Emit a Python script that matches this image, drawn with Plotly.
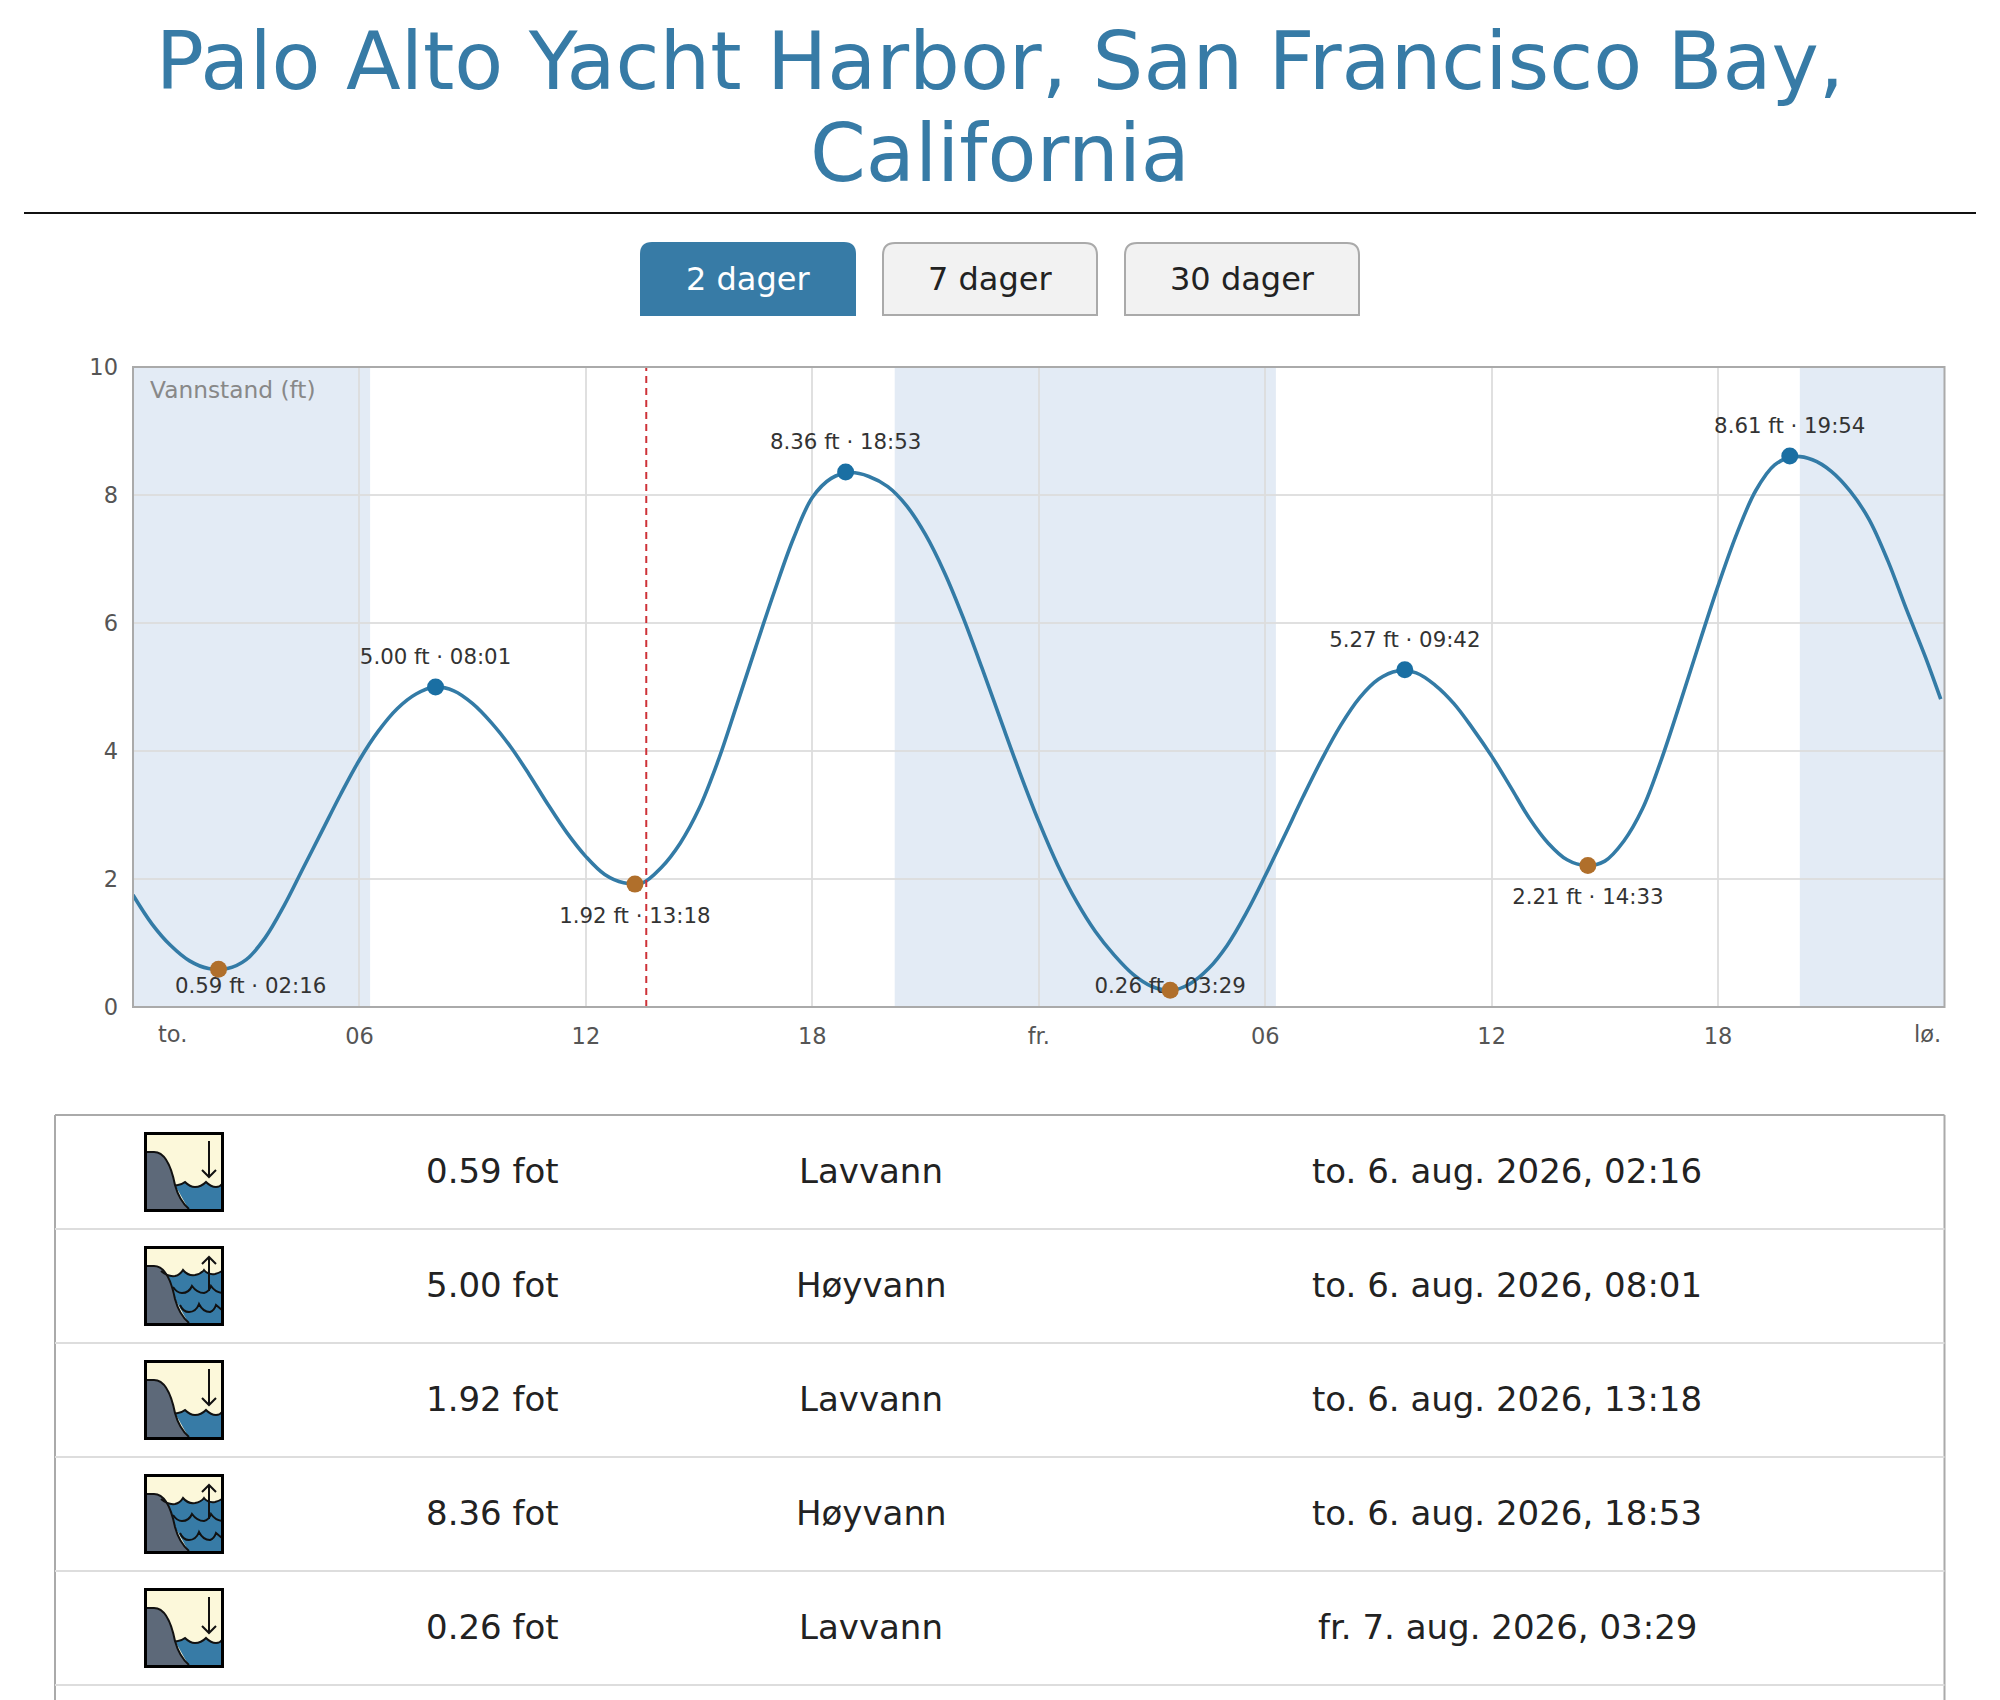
import pandas as pd
import plotly.graph_objects as go

W, H = 2000, 1700
FONT = "DejaVu Sans"
BLUE = "#377BA6"

# ---------- data ----------
title_lines = ["Palo Alto Yacht Harbor, San Francisco Bay,", "California"]
range_buttons = ["2 dager", "7 dager", "30 dager"]

level_times = list(pd.date_range("2026-08-06 00:00", periods=96, freq="30min").strftime("%Y-%m-%d %H:%M")) + ["2026-08-07 23:54"]
level_ft = [1.75, 1.30, 0.96, 0.72, 0.60, 0.60, 0.74, 1.08, 1.58, 2.16, 2.74, 3.32,
            3.86, 4.31, 4.66, 4.89, 5.00, 4.94, 4.74, 4.44, 4.07, 3.63, 3.16, 2.72,
            2.35, 2.07, 1.94, 1.94, 2.18, 2.56, 3.10, 3.84, 4.72, 5.62, 6.50, 7.32,
            7.96, 8.26, 8.35, 8.29, 8.13, 7.83, 7.38, 6.79, 6.08, 5.29, 4.47, 3.66,
            2.90, 2.22, 1.65, 1.18, 0.81, 0.51, 0.32, 0.26, 0.36, 0.60, 0.97, 1.47,
            2.05, 2.66, 3.28, 3.87, 4.40, 4.83, 5.12, 5.25, 5.22, 5.03, 4.74, 4.35,
            3.92, 3.44, 2.95, 2.56, 2.30, 2.21, 2.28, 2.59, 3.10, 3.87, 4.76, 5.68,
            6.58, 7.40, 8.07, 8.47, 8.60, 8.55, 8.37, 8.06, 7.62, 6.97, 6.20, 5.46, 4.81]

high_times = ["2026-08-06 08:01", "2026-08-06 18:53", "2026-08-07 09:42", "2026-08-07 19:54"]
high_ft = [5.00, 8.36, 5.27, 8.61]
low_times = ["2026-08-06 02:16", "2026-08-06 13:18", "2026-08-07 03:29", "2026-08-07 14:33"]
low_ft = [0.59, 1.92, 0.26, 2.21]

night_bands = [("2026-08-06 00:00", "2026-08-06 06:17"),
               ("2026-08-06 20:11", "2026-08-07 06:17"),
               ("2026-08-07 20:10", "2026-08-08 00:00")]
now_time = "2026-08-06 13:36"

x_tick_vals = ["2026-08-06 06:00", "2026-08-06 12:00", "2026-08-06 18:00", "2026-08-07 00:00",
               "2026-08-07 06:00", "2026-08-07 12:00", "2026-08-07 18:00"]
x_tick_text = ["06", "12", "18", "fr.", "06", "12", "18"]
y_ticks = [0, 2, 4, 6, 8, 10]

row_heights = ["0.59 fot", "5.00 fot", "1.92 fot", "8.36 fot", "0.26 fot"]
row_kinds = ["Lavvann", "Høyvann", "Lavvann", "Høyvann", "Lavvann"]
row_dates = ["to. 6. aug. 2026, 02:16", "to. 6. aug. 2026, 08:01", "to. 6. aug. 2026, 13:18",
             "to. 6. aug. 2026, 18:53", "fr. 7. aug. 2026, 03:29"]

# ---------- page geometry helpers ----------
PL, PR, PT, PB = 133, 1944.5, 367, 1007
def X(px): return px / W
def Y(px): return 1 - px / H

def page_path(cmds):
    out = []
    for c in cmds:
        nums = c[1:]
        pairs = [f"{X(nums[i])},{Y(nums[i+1])}" for i in range(0, len(nums), 2)]
        out.append(c[0] + " " + " ".join(pairs))
    return " ".join(out)

shapes = []
def page_shape(cmds, fill=None, line=None, width=0, close=False):
    p = page_path(cmds) + (" Z" if close else "")
    shapes.append(dict(type="path", path=p, xref="paper", yref="paper", layer="above",
                       fillcolor=fill if fill else "rgba(0,0,0,0)",
                       line=dict(color=line if line else "rgba(0,0,0,0)", width=width)))

def page_line(x0, y0, x1, y1, color, width):
    shapes.append(dict(type="line", xref="paper", yref="paper", layer="above",
                       x0=X(x0), y0=Y(y0), x1=X(x1), y1=Y(y1), line=dict(color=color, width=width)))

annotations = []
def text(px, py, s, size, color, anchor="center"):
    annotations.append(dict(xref="paper", yref="paper", x=X(px), y=Y(py), text=s, showarrow=False,
                            xanchor=anchor, yanchor="middle", font=dict(family=FONT, size=size, color=color)))

# ---------- chart bands, frame and now-line ----------
for a, b in night_bands:
    shapes.append(dict(type="rect", xref="x", yref="y", x0=a, x1=b, y0=0, y1=10, layer="below",
                       fillcolor="#E3EBF5", line=dict(width=0)))
shapes.append(dict(type="line", xref="x", yref="y", x0=now_time, x1=now_time, y0=0, y1=10, layer="above",
                   line=dict(color="#CE3238", width=2, dash="7px,5px")))
shapes.append(dict(type="rect", xref="x domain", yref="y domain", x0=0, x1=1, y0=0, y1=1, layer="above",
                   fillcolor="rgba(0,0,0,0)", line=dict(color="#AAAAAA", width=2)))

# ---------- header ----------
page_line(24, 213, 1976, 213, "#111111", 2)
text(1000, 154, title_lines[1], 80, BLUE)

def button(x0, x1, y0, y1, label, active):
    r = 12
    cmds = [("M", x0, y1), ("L", x0, y0 + r), ("Q", x0, y0, x0 + r, y0), ("L", x1 - r, y0),
            ("Q", x1, y0, x1, y0 + r), ("L", x1, y1)]
    page_shape(cmds, fill=BLUE if active else "#F2F2F2", line=None if active else "#AAAAAA",
               width=0 if active else 2, close=True)
    text((x0 + x1) / 2, 279, label, 32, "#FFFFFF" if active else "#222222")

button(640, 856, 242, 316, range_buttons[0], True)
button(883, 1097, 243, 315, range_buttons[1], False)
button(1125, 1359, 243, 315, range_buttons[2], False)

# ---------- axis edge labels ----------
text(172, 1034, "to.", 22.5, "#555555")
text(1943, 1034, "lø.", 22.5, "#555555", anchor="right")
text(148, 390, "Vannstand (ft)", 23.3, "#888888", anchor="left")

# ---------- table ----------
ROW0, ROWH = 1115, 114
TL, TR = 55, 1944.5
page_line(TL, ROW0, TR, ROW0, "#AAAAAA", 2)
page_line(TL, ROW0, TL, H, "#AAAAAA", 2)
page_line(TR, ROW0, TR, H, "#AAAAAA", 2)
for i in range(1, 6):
    page_line(TL, ROW0 + ROWH * i, TR, ROW0 + ROWH * i, "#DDDDDD", 2)

def icon(ox, oy, high):
    def P(*vals):
        return [vals[i] + (ox if i % 2 == 0 else oy) for i in range(len(vals))]
    def C(letter, *vals):
        return (letter, *P(*vals))
    page_shape([C("M", 1, 1), C("L", 79, 1), C("L", 79, 79), C("L", 1, 79)], fill="#FCF8DA", close=True)
    if high:
        surface = [C("M", 17, 25), C("Q", 24, 31, 31, 30), C("Q", 36, 29, 39, 24), C("Q", 44, 30, 51, 29),
                   C("Q", 57, 28, 60, 24), C("Q", 64, 29, 71, 28), C("Q", 75, 27, 78, 25)]
    else:
        surface = [C("M", 31, 53), C("Q", 36, 54, 41, 50), C("Q", 46, 55, 51, 55), C("Q", 57, 55, 62, 50),
                   C("Q", 67, 55, 72, 55), C("Q", 76, 55, 78, 52)]
    page_shape(surface + [C("L", 78, 78), C("L", 45, 78), C("L", 31, 53)], fill=BLUE, close=True)
    land = [C("M", 2, 20), C("L", 10, 20), C("C", 22, 20, 28, 38, 31, 53), C("C", 34, 64, 38, 71, 45, 77)]
    page_shape(land + [C("L", 45, 78), C("L", 2, 78)], fill="#5D6979", close=True)
    page_shape(land, line="#111111", width=2)
    page_shape(surface, line="#111111", width=2)
    if high:
        page_shape([C("M", 29, 41), C("Q", 33, 47, 38, 47), C("Q", 45, 47, 48, 40), C("Q", 53, 47, 60, 47),
                    C("Q", 65, 46, 67, 40), C("Q", 71, 46, 78, 47)], line="#111111", width=2)
        page_shape([C("M", 36, 59), C("Q", 39, 66, 45, 66), C("Q", 52, 66, 55, 58), C("Q", 59, 66, 66, 66),
                    C("Q", 70, 65, 72, 59), C("L", 78, 64)], line="#111111", width=2)
        page_shape([C("M", 65, 45), C("L", 65, 11)], line="#111111", width=2)
        page_shape([C("M", 58, 18), C("L", 65, 11), C("L", 72, 18)], line="#111111", width=2)
    else:
        page_shape([C("M", 65, 9), C("L", 65, 45)], line="#111111", width=2)
        page_shape([C("M", 58, 38), C("L", 65, 45), C("L", 72, 38)], line="#111111", width=2)
    page_shape([C("M", 1.5, 1.5), C("L", 78.5, 1.5), C("L", 78.5, 78.5), C("L", 1.5, 78.5)],
               line="#000000", width=3, close=True)

for i, (h, k, d) in enumerate(zip(row_heights, row_kinds, row_dates)):
    cy = ROW0 + ROWH * i + 56
    icon(144, ROW0 + ROWH * i + 17, k == "Høyvann")
    text(492, cy, h, 34, "#222222")
    text(871, cy, k, 34, "#222222")
    text(1507, cy, d, 34, "#222222")

# ---------- figure ----------
def label_text(ft, t):
    return f"{ft:.2f} ft · {t[-5:]}"

def low_label_time(t):
    # the first low sits so close to the left edge that its label is pushed to the right
    return (pd.Timestamp(t) + pd.Timedelta(minutes=51)).strftime("%Y-%m-%d %H:%M") if t == low_times[0] else t

label_x = high_times + [low_label_time(t) for t in low_times]
label_y = [v + 0.44 for v in high_ft] + [max(v - 0.52, 0.3) for v in low_ft]
label_s = [label_text(v, t) for v, t in zip(high_ft, high_times)] + [label_text(v, t) for v, t in zip(low_ft, low_times)]

fig = go.Figure()
fig.add_trace(go.Scatter(x=level_times, y=level_ft, mode="lines", name="Vannstand",
                         line=dict(color="#337BA6", width=3.6, shape="spline", smoothing=1.0), cliponaxis=False))
fig.add_trace(go.Scatter(x=label_x, y=label_y, mode="text", text=label_s, textposition="middle center",
                         textfont=dict(family=FONT, size=21.3, color="#333333"), cliponaxis=False))
fig.add_trace(go.Scatter(x=high_times, y=high_ft, mode="markers", name="Høyvann",
                         marker=dict(color="#1A6FA3", size=17), cliponaxis=False))
fig.add_trace(go.Scatter(x=low_times, y=low_ft, mode="markers", name="Lavvann",
                         marker=dict(color="#B06F2B", size=17), cliponaxis=False))

GRID = "rgba(220,220,220,0.89)"
fig.update_layout(
    width=W, height=H, autosize=False, showlegend=False,
    paper_bgcolor="white", plot_bgcolor="white",
    margin=dict(l=0, r=0, t=0, b=0, pad=0, autoexpand=False),
    font=dict(family=FONT, color="#555555"),
    title=dict(text=title_lines[0], x=0.5, xanchor="center", xref="paper", yref="paper",
               y=Y(61), yanchor="middle", font=dict(family=FONT, size=80, color=BLUE)),
    shapes=shapes, annotations=annotations,
    xaxis=dict(domain=[X(PL), X(PR)], type="date", range=["2026-08-06 00:00", "2026-08-08 00:00"], automargin=False,
               tickvals=x_tick_vals, ticktext=x_tick_text, ticks="", showgrid=True, gridcolor=GRID, gridwidth=2,
               showline=False, zeroline=False, ticklabelstandoff=13,
               tickangle=0, tickfont=dict(family=FONT, size=22.5, color="#555555")),
    yaxis=dict(domain=[Y(PB), Y(PT)], range=[0, 10], tickvals=y_ticks, ticks="", showgrid=True, automargin=False,
               gridcolor=GRID, gridwidth=2, showline=False, ticklabelstandoff=14,
               zeroline=False, tickfont=dict(family=FONT, size=22.5, color="#555555")),
)

post = ("document.documentElement.style.margin='0';document.body.style.margin='0';"
        "var gd=document.getElementById('{plot_id}');gd.style.position='absolute';gd.style.top='0';gd.style.left='0';")
fig.write_html("out.html", config={"displayModeBar": False}, post_script=post)
